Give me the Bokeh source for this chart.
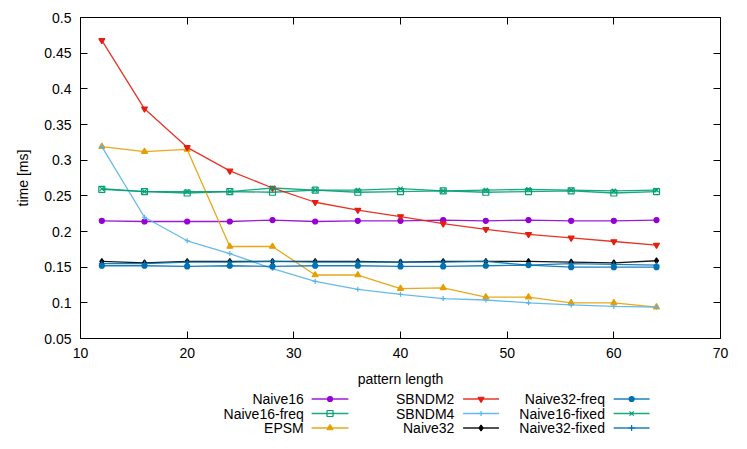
from bokeh.plotting import figure
from bokeh.models import Range1d, LinearAxis, FixedTicker, CustomJSTickFormatter
from bokeh.layouts import column
from bokeh.core.properties import value
from bokeh.embed import file_html
from bokeh.resources import INLINE

# ---- data ----
pattern_length = [12, 16, 20, 24, 28, 32, 36, 40, 44, 48, 52, 56, 60, 64]

naive16 = [0.215, 0.214, 0.214, 0.214, 0.216, 0.214, 0.215, 0.215, 0.216, 0.215, 0.216, 0.215, 0.215, 0.216]
naive16_freq = [0.259, 0.256, 0.254, 0.256, 0.255, 0.258, 0.255, 0.256, 0.257, 0.255, 0.256, 0.257, 0.254, 0.256]
epsm = [0.319, 0.312, 0.315, 0.179, 0.179, 0.139, 0.139, 0.120, 0.121, 0.108, 0.108, 0.100, 0.100, 0.094]
sbndm2 = [0.468, 0.372, 0.318, 0.285, 0.261, 0.241, 0.230, 0.221, 0.211, 0.203, 0.196, 0.191, 0.186, 0.181]
sbndm4 = [0.319, 0.220, 0.187, 0.169, 0.148, 0.130, 0.119, 0.112, 0.106, 0.104, 0.100, 0.097, 0.095, 0.094]
naive32 = [0.158, 0.156, 0.158, 0.158, 0.158, 0.158, 0.158, 0.157, 0.158, 0.158, 0.158, 0.157, 0.156, 0.159]
naive32_freq = [0.152, 0.152, 0.151, 0.152, 0.151, 0.152, 0.152, 0.151, 0.151, 0.152, 0.153, 0.150, 0.150, 0.150]
naive16_fixed = [0.260, 0.256, 0.256, 0.256, 0.261, 0.258, 0.258, 0.260, 0.257, 0.258, 0.259, 0.258, 0.257, 0.258]
naive32_fixed = [0.155, 0.155, 0.157, 0.157, 0.158, 0.157, 0.157, 0.157, 0.157, 0.158, 0.153, 0.155, 0.154, 0.153]

series_names = ["Naive16", "Naive16-freq", "EPSM", "SBNDM2", "SBNDM4",
                "Naive32", "Naive32-freq", "Naive16-fixed", "Naive32-fixed"]
series_values = [naive16, naive16_freq, epsm, sbndm2, sbndm4,
                 naive32, naive32_freq, naive16_fixed, naive32_fixed]

x_ticks = [10, 20, 30, 40, 50, 60, 70]
y_ticks = [0.05, 0.1, 0.15, 0.2, 0.25, 0.3, 0.35, 0.4, 0.45, 0.5]
y_tick_labels = ["0.05", "0.1", "0.15", "0.2", "0.25", "0.3", "0.35", "0.4", "0.45", "0.5"]

# ---- styles ----
colors = ["#9400d3", "#009e73", "#e69f00", "#e51e10", "#56b4e9",
          "#000000", "#0072b2", "#009e73", "#0072b2"]
markers = ["circle", "square", "triangle", "inverted_triangle", "cross",
           "diamond", "circle", "x", "cross"]
marker_sizes = [5, 6, 6, 6, 5, 6, 5, 6, 6]
marker_fill = [True, False, True, True, False, True, True, False, False]

FONT = "Liberation Sans"
FS = "14px"

p = figure(width=731, height=389,
           x_range=Range1d(10, 70), y_range=Range1d(0.05, 0.5),
           x_axis_location="below", y_axis_location="left",
           output_backend="svg", toolbar_location=None,
           min_border_left=80, min_border_right=11,
           min_border_top=17, min_border_bottom=46)
p.xgrid.visible = False
p.ygrid.visible = False
p.outline_line_color = "black"
p.outline_line_width = 1
p.background_fill_color = "white"

bottom = p.below[0]
left = p.left[0]

bottom.ticker = FixedTicker(ticks=x_ticks)
left.ticker = FixedTicker(ticks=y_ticks)
left.major_label_overrides = {t: l for t, l in zip(y_ticks, y_tick_labels)}
bottom.axis_label = "pattern length"
left.axis_label = "time [ms]"

top = LinearAxis(ticker=FixedTicker(ticks=x_ticks),
                 formatter=CustomJSTickFormatter(code="return ''"))
right = LinearAxis(ticker=FixedTicker(ticks=y_ticks),
                   formatter=CustomJSTickFormatter(code="return ''"))
for ax in (top, right):
    ax.major_label_standoff = 0
p.add_layout(top, "above")
p.add_layout(right, "right")

for ax in (bottom, left, top, right):
    ax.axis_line_color = None
    ax.major_tick_in = 7
    ax.major_tick_out = 0
    ax.minor_tick_in = 0
    ax.minor_tick_out = 0
    ax.major_tick_line_color = "black"
    ax.major_label_text_font = FONT
    ax.major_label_text_font_size = FS
    ax.major_label_text_color = "black"
    ax.axis_label_text_font = FONT
    ax.axis_label_text_font_size = FS
    ax.axis_label_text_font_style = "normal"
    ax.axis_label_text_color = "black"

for ax in (bottom, left):
    ax.major_label_standoff = 9
bottom.axis_label_standoff = 10
left.axis_label_standoff = 10

for vals, c, m, s, f in zip(series_values, colors, markers, marker_sizes, marker_fill):
    p.line(pattern_length, vals, line_color=c, line_width=1.3, line_alpha=0.9)
    p.scatter(pattern_length, vals, marker=m, size=s, line_color=c,
              fill_color=c if f else None, line_width=1.2)

# ---- legend (gnuplot style: label then sample), 3 columns below ----
LH = 52
lf = figure(width=731, height=LH, x_range=Range1d(0, 731), y_range=Range1d(LH, 0),
            output_backend="svg", toolbar_location=None, min_border=0,
            x_axis_location=None, y_axis_location=None)
lf.grid.visible = False
lf.outline_line_color = None

col_text_x = [255, 427, 599]
col_line_x0 = [264, 437, 609]
col_line_x1 = [306, 478, 650]
row_y = [9.5, 24, 38.5]

for i, (name, c, m, s, f) in enumerate(zip(series_names, colors, markers, marker_sizes, marker_fill)):
    col, row = divmod(i, 3)
    yy = row_y[row]
    lf.text(x=[col_text_x[col]], y=[yy], text=[name], text_align="right",
            text_baseline="middle", text_font=value(FONT), text_font_size=FS,
            text_color="black")
    lf.segment(x0=[col_line_x0[col]], y0=[yy], x1=[col_line_x1[col]], y1=[yy],
               line_color=c, line_width=1.3, line_alpha=0.9)
    lf.scatter(x=[(col_line_x0[col] + col_line_x1[col]) / 2], y=[yy], marker=m, size=s,
               line_color=c, fill_color=c if f else None, line_width=1.2)

layout = column(p, lf, spacing=0)
open("out.html", "w").write(file_html(layout, INLINE))
